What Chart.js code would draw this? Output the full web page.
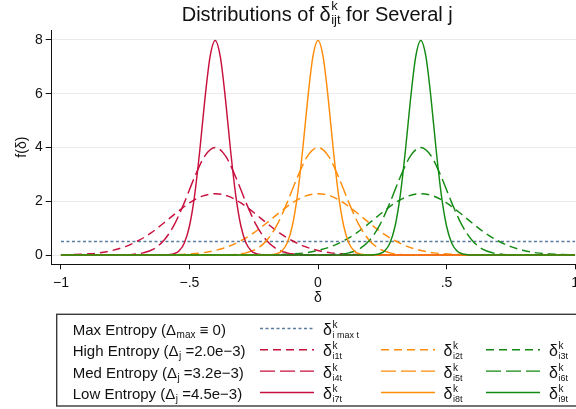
<!DOCTYPE html>
<html><head><meta charset="utf-8">
<script src="https://cdn.jsdelivr.net/npm/chart.js@4"></script>
<style>html,body{margin:0;padding:0;overflow:hidden;background:#fff;width:576px;height:409px}canvas{display:block}</style>
</head><body><canvas id="c" width="610" height="409"></canvas>
<script>
// ---- tick labels ----
const xTickValues = [-1, -0.5, 0, 0.5, 1];
const xTickLabels = ['\u22121', '\u2212.5', '0', '.5', '1'];
const yTickValues = [0, 2, 4, 6, 8];
const yTickLabels = ['0', '2', '4', '6', '8'];

// ---- series values: [delta, f(delta)] ----
const maxEntropy = [[-1, 0.5], [1, 0.5]];
const high1 = [[-1,0.006],[-0.95,0.016],[-0.9,0.04],[-0.85,0.08],[-0.8,0.17],[-0.75,0.31],[-0.7,0.53],[-0.65,0.82],[-0.6,1.19],[-0.55,1.58],[-0.5,1.94],[-0.45,2.19],[-0.4,2.28],[-0.35,2.19],[-0.3,1.94],[-0.25,1.58],[-0.2,1.19],[-0.15,0.82],[-0.1,0.53],[-0.05,0.31],[0,0.17],[0.05,0.08],[0.1,0.04],[0.15,0.016],[0.2,0.006],[0.25,0.002],[1,0]];
const high2 = [[-1,0],[-0.65,0.002],[-0.6,0.006],[-0.55,0.016],[-0.5,0.04],[-0.45,0.08],[-0.4,0.17],[-0.35,0.31],[-0.3,0.53],[-0.25,0.82],[-0.2,1.19],[-0.15,1.58],[-0.1,1.94],[-0.05,2.19],[0,2.28],[0.05,2.19],[0.1,1.94],[0.15,1.58],[0.2,1.19],[0.25,0.82],[0.3,0.53],[0.35,0.31],[0.4,0.17],[0.45,0.08],[0.5,0.04],[0.55,0.016],[0.6,0.006],[0.65,0.002],[1,0]];
const high3 = [[-1,0],[-0.25,0.002],[-0.2,0.006],[-0.15,0.016],[-0.1,0.04],[-0.05,0.08],[0,0.17],[0.05,0.31],[0.1,0.53],[0.15,0.82],[0.2,1.19],[0.25,1.58],[0.3,1.94],[0.35,2.19],[0.4,2.28],[0.45,2.19],[0.5,1.94],[0.55,1.58],[0.6,1.19],[0.65,0.82],[0.7,0.53],[0.75,0.31],[0.8,0.17],[0.85,0.08],[0.9,0.04],[0.95,0.016],[1,0.006]];
const med4 = [[-1,0],[-0.8,0.001],[-0.76,0.006],[-0.72,0.024],[-0.68,0.08],[-0.64,0.22],[-0.6,0.54],[-0.56,1.11],[-0.52,1.95],[-0.48,2.9],[-0.44,3.69],[-0.4,4],[-0.36,3.69],[-0.32,2.9],[-0.28,1.95],[-0.24,1.11],[-0.2,0.54],[-0.16,0.22],[-0.12,0.08],[-0.08,0.024],[-0.04,0.006],[0,0.001],[1,0]];
const med5 = [[-1,0],[-0.4,0.001],[-0.36,0.006],[-0.32,0.024],[-0.28,0.08],[-0.24,0.22],[-0.2,0.54],[-0.16,1.11],[-0.12,1.95],[-0.08,2.9],[-0.04,3.69],[0,4],[0.04,3.69],[0.08,2.9],[0.12,1.95],[0.16,1.11],[0.2,0.54],[0.24,0.22],[0.28,0.08],[0.32,0.024],[0.36,0.006],[0.4,0.001],[1,0]];
const med6 = [[-1,0],[0,0.001],[0.04,0.006],[0.08,0.024],[0.12,0.08],[0.16,0.22],[0.2,0.54],[0.24,1.11],[0.28,1.95],[0.32,2.9],[0.36,3.69],[0.4,4],[0.44,3.69],[0.48,2.9],[0.52,1.95],[0.56,1.11],[0.6,0.54],[0.64,0.22],[0.68,0.08],[0.72,0.024],[0.76,0.006],[0.8,0.001],[1,0]];
const low7 = [[-1,0],[-0.6,0.003],[-0.58,0.012],[-0.56,0.048],[-0.54,0.16],[-0.52,0.45],[-0.5,1.08],[-0.48,2.22],[-0.46,3.88],[-0.44,5.8],[-0.42,7.37],[-0.4,7.98],[-0.38,7.37],[-0.36,5.8],[-0.34,3.88],[-0.32,2.22],[-0.3,1.08],[-0.28,0.45],[-0.26,0.16],[-0.24,0.048],[-0.22,0.012],[-0.2,0.003],[1,0]];
const low8 = [[-1,0],[-0.2,0.003],[-0.18,0.012],[-0.16,0.048],[-0.14,0.16],[-0.12,0.45],[-0.1,1.08],[-0.08,2.22],[-0.06,3.88],[-0.04,5.8],[-0.02,7.37],[0,7.98],[0.02,7.37],[0.04,5.8],[0.06,3.88],[0.08,2.22],[0.1,1.08],[0.12,0.45],[0.14,0.16],[0.16,0.048],[0.18,0.012],[0.2,0.003],[1,0]];
const low9 = [[-1,0],[0.2,0.003],[0.22,0.012],[0.24,0.048],[0.26,0.16],[0.28,0.45],[0.3,1.08],[0.32,2.22],[0.34,3.88],[0.36,5.8],[0.38,7.37],[0.4,7.98],[0.42,7.37],[0.44,5.8],[0.46,3.88],[0.48,2.22],[0.5,1.08],[0.52,0.45],[0.54,0.16],[0.56,0.048],[0.58,0.012],[0.6,0.003],[1,0]];

// ---- legend text ----
const rowNames = ['Max Entropy', 'High Entropy', 'Med Entropy', 'Low Entropy'];
const rowDeltaSubs = ['max', 'j', 'j', 'j'];
const rowDeltaVals = [' \u2261 0)', ' =2.0e\u22123)', ' =3.2e\u22123)', ' =4.5e\u22123)'];
const seriesSubs = ['i max t', 'i1t', 'i2t', 'i3t', 'i4t', 'i5t', 'i6t', 'i7t', 'i8t', 'i9t'];

// ---- styles ----
const FONT = '"Liberation Sans", Arial, Helvetica, sans-serif';
const RED = '#c8103e', ORANGE = '#ff8c0a', GREEN = '#138a13', SLATE = '#5a7d9e';
const DASH_MAX = [3, 2.5], DASH_HIGH = [8, 5], DASH_MED = [15, 5], DASH_LOW = [];
const seriesData = [maxEntropy, high1, high2, high3, med4, med5, med6, low7, low8, low9];
const seriesColors = [SLATE, RED, ORANGE, GREEN, RED, ORANGE, GREEN, RED, ORANGE, GREEN];
const seriesDash = [DASH_MAX, DASH_HIGH, DASH_HIGH, DASH_HIGH, DASH_MED, DASH_MED, DASH_MED, DASH_LOW, DASH_LOW, DASH_LOW];

const datasets = seriesData.map((pts, i) => ({
  label: 'δ' + seriesSubs[i],
  data: pts.map(p => ({x: p[0], y: p[1]})),
  borderColor: seriesColors[i],
  borderDash: seriesDash[i],
  borderWidth: 1.45,
  pointRadius: 0,
  fill: false,
  cubicInterpolationMode: 'monotone',
  order: seriesData.length - i
}));

function drawDeltaLabel(ctx, x, base, sub) {
  ctx.font = '16px ' + FONT;
  ctx.textAlign = 'left';
  ctx.textBaseline = 'alphabetic';
  ctx.fillText('δ', x, base);
  const w = ctx.measureText('δ').width;
  ctx.font = '10px ' + FONT;
  ctx.fillText('k', x + w + 0.5, base - 7);
  ctx.font = '9px ' + FONT;
  ctx.fillText(sub, x + w + 0.5, base + 3);
}

const customDraw = {
  id: 'customDraw',
  afterDraw(chart) {
    const ctx = chart.ctx;
    ctx.save();
    ctx.fillStyle = '#111';
    // Title with super/subscript
    const big = '20px ' + FONT, small = '13px ' + FONT;
    const t1 = 'Distributions of δ', t2 = ' for Several j';
    ctx.font = big; const w1 = ctx.measureText(t1).width; const w3 = ctx.measureText(t2).width;
    ctx.font = small; const w2 = Math.max(ctx.measureText('k').width, ctx.measureText('ijt').width);
    let x = 317 - (w1 + w2 + w3) / 2; const tb = 20.7;
    ctx.textBaseline = 'alphabetic'; ctx.textAlign = 'left';
    ctx.font = big; ctx.fillText(t1, x, tb); x += w1;
    ctx.font = small; ctx.fillText('k', x + 0.5, tb - 10.5); ctx.fillText('ijt', x + 0.5, tb + 3.5); x += w2 + 0.5;
    ctx.font = big; ctx.fillText(t2, x, tb);

    // Legend box
    ctx.strokeStyle = '#3a3a3a'; ctx.lineWidth = 1.4;
    ctx.strokeRect(56.7, 314.3, 560, 91.7);
    const baselines = [335, 356.3, 377.6, 399];
    const colLineX = [[260, 314], [381, 435], [486, 540]];
    const colLabelX = [323, 443.5, 549];
    for (let r = 0; r < 4; r++) {
      const b = baselines[r];
      ctx.fillStyle = '#111';
      ctx.font = '15px ' + FONT;
      const pre = rowNames[r] + ' (Δ';
      ctx.fillText(pre, 72.7, b);
      let px = 72.7 + ctx.measureText(pre).width;
      ctx.font = '10px ' + FONT;
      ctx.fillText(rowDeltaSubs[r], px + 0.5, b + 3);
      px += ctx.measureText(rowDeltaSubs[r]).width + 0.5;
      ctx.font = '15px ' + FONT;
      ctx.fillText(rowDeltaVals[r], px, b);
      const nCols = r === 0 ? 1 : 3;
      for (let c = 0; c < nCols; c++) {
        const si = r === 0 ? 0 : 1 + (r - 1) * 3 + c;
        ctx.save();
        ctx.strokeStyle = seriesColors[si];
        ctx.lineWidth = 1.45;
        ctx.setLineDash(seriesDash[si]);
        ctx.beginPath();
        ctx.moveTo(colLineX[c][0], b - 6.5);
        ctx.lineTo(colLineX[c][1], b - 6.5);
        ctx.stroke();
        ctx.restore();
        ctx.fillStyle = '#111';
        drawDeltaLabel(ctx, colLabelX[c], b, seriesSubs[si]);
      }
    }
    ctx.restore();
  }
};

new Chart(document.getElementById('c'), {
  type: 'line',
  data: { datasets },
  options: {
    responsive: false,
    animation: false,
    devicePixelRatio: 1,
    parsing: true,
    layout: { padding: { top: 30, left: 0, right: 25.7, bottom: 102.7 } },
    plugins: { legend: { display: false }, tooltip: { enabled: false }, title: { display: false } },
    scales: {
      x: {
        type: 'linear', min: -1.036, max: 1.036,
        afterBuildTicks: s => { s.ticks = xTickValues.map(v => ({ value: v })); },
        afterFit: s => { s.height = 42; },
        ticks: { callback: (v, i) => xTickLabels[i], font: { family: FONT, size: 14 }, color: '#111', padding: 5, maxRotation: 0, autoSkip: false },
        grid: { drawOnChartArea: false, drawTicks: true, tickLength: 5, tickColor: '#111', tickWidth: 1 },
        border: { display: true, color: '#111', width: 1 },
        title: { display: true, text: 'δ', font: { family: FONT, size: 14 }, color: '#111', padding: { top: 0, bottom: 0 } }
      },
      y: {
        type: 'linear', min: -0.346, max: 8.372,
        afterBuildTicks: s => { s.ticks = yTickValues.map(v => ({ value: v })); },
        afterFit: s => { s.width = 51.7; },
        ticks: { callback: (v, i) => yTickLabels[i], font: { family: FONT, size: 14 }, color: '#111', padding: 3, autoSkip: false },
        grid: { color: '#ebebeb', lineWidth: 1, drawTicks: true, tickLength: 6, tickColor: '#111', tickWidth: 1 },
        border: { display: true, color: '#111', width: 1 },
        title: { display: true, text: 'f(δ)', font: { family: FONT, size: 14 }, color: '#111', padding: { top: 13.6, bottom: 0 } }
      }
    }
  },
  plugins: [customDraw]
});
</script>
</body></html>
